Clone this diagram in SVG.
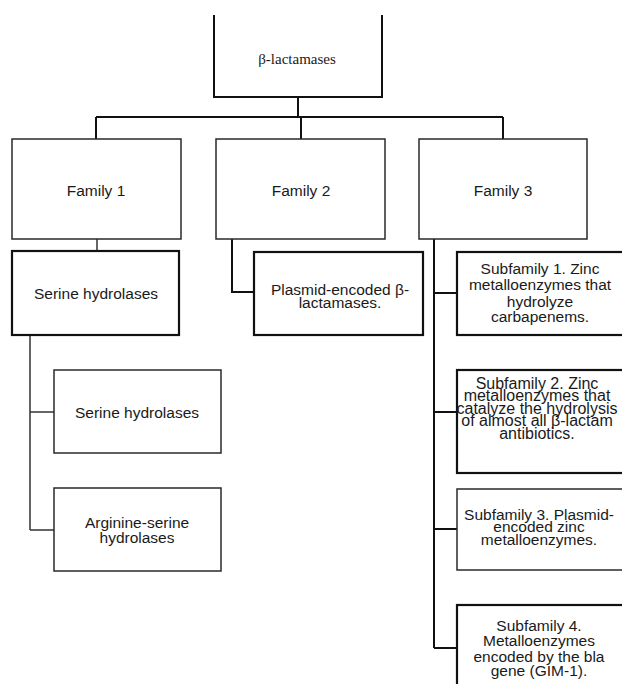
<svg xmlns="http://www.w3.org/2000/svg" width="622" height="684" viewBox="0 0 622 684">
<style>
  .bg{fill:#fff}
  .box{fill:#fff;stroke:#2a2a2a;stroke-width:1.5}
  .boxb{fill:#fff;stroke:#111;stroke-width:2.2}
  .ln{fill:none;stroke:#111;stroke-width:2}
  .lnt{fill:none;stroke:#333;stroke-width:1.5}
  .t{font-family:"Liberation Sans",Arial,sans-serif;font-size:15.5px;fill:#1a1a1a;text-anchor:middle}
  .t16{font-size:16px}
  .ts{font-family:"Liberation Serif","Times New Roman",serif;font-size:15px;fill:#1a1a1a;text-anchor:middle}
</style>
<rect class="bg" x="0" y="0" width="622" height="684"/>
<g id="connectors">
  <path class="ln" d="M298,97 V117"/>
  <path class="ln" d="M96,117 H503"/>
  <path class="ln" d="M96,117 V139 M301,117 V139 M503,117 V139"/>
  <path class="lnt" d="M97,239 V251"/>
  <path class="lnt" d="M30,335 V530 M30,412 H54 M30,530 H54"/>
  <path class="ln" d="M232,239 V292 H254"/>
  <path class="ln" d="M434,239 V648 M434,293 H457 M434,412 H457 M434,529 H457 M434,648 H457"/>
</g>
<g id="n-root">
  <path class="ln" d="M214,15 V97 H382 V15"/>
  <text class="ts" x="297" y="64">β-lactamases</text>
</g>
<g id="n-family1">
  <rect class="box" x="12" y="139" width="169" height="100"/>
  <text class="t" x="96" y="195.5">Family 1</text>
</g>
<g id="n-family2">
  <rect class="box" x="216" y="139" width="169" height="100"/>
  <text class="t" x="301" y="195.5">Family 2</text>
</g>
<g id="n-family3">
  <rect class="box" x="419" y="139" width="168" height="100"/>
  <text class="t" x="503" y="195.5">Family 3</text>
</g>
<g id="n-serine">
  <rect class="boxb" x="12" y="251" width="167" height="84"/>
  <text class="t" x="96" y="298.5">Serine hydrolases</text>
</g>
<g id="n-serine2">
  <rect class="box" x="54" y="370" width="167" height="83"/>
  <text class="t" x="137" y="417.5">Serine hydrolases</text>
</g>
<g id="n-arginine">
  <rect class="box" x="54" y="488" width="167" height="83"/>
  <text class="t" x="137" y="527.5">Arginine-serine</text>
  <text class="t" x="137" y="542.5">hydrolases</text>
</g>
<g id="n-plasmid">
  <rect class="boxb" x="254" y="252" width="169" height="83"/>
  <text class="t" x="340" y="295">Plasmid-encoded β-</text>
  <text class="t" x="340" y="308">lactamases.</text>
</g>
<g id="n-sub1">
  <rect class="boxb" x="457" y="252" width="173" height="83"/>
  <text class="t" x="540" y="273.5">Subfamily 1. Zinc</text>
  <text class="t" x="540" y="289.5">metalloenzymes that</text>
  <text class="t" x="540" y="306.5">hydrolyze</text>
  <text class="t" x="540" y="321.5">carbapenems.</text>
</g>
<g id="n-sub2">
  <rect class="boxb" x="457" y="370" width="173" height="103"/>
  <text class="t t16" x="537" y="388.5">Subfamily 2. Zinc</text>
  <text class="t t16" x="537" y="401">metalloenzymes that</text>
  <text class="t t16" x="537" y="413.5">catalyze the hydrolysis</text>
  <text class="t t16" x="537" y="426">of almost all β-lactam</text>
  <text class="t t16" x="537" y="438.5">antibiotics.</text>
</g>
<g id="n-sub3">
  <rect class="box" x="457" y="489" width="173" height="81"/>
  <text class="t" x="539" y="519.5">Subfamily 3. Plasmid-</text>
  <text class="t" x="539" y="532">encoded zinc</text>
  <text class="t" x="539" y="544.5">metalloenzymes.</text>
</g>
<g id="n-sub4">
  <rect class="boxb" x="457" y="605" width="173" height="100"/>
  <text class="t" x="539" y="630.5">Subfamily 4.</text>
  <text class="t" x="539" y="645.5">Metalloenzymes</text>
  <text class="t" x="539" y="661.5">encoded by the bla</text>
  <text class="t" x="539" y="675.5">gene (GIM-1).</text>
</g>
</svg>
